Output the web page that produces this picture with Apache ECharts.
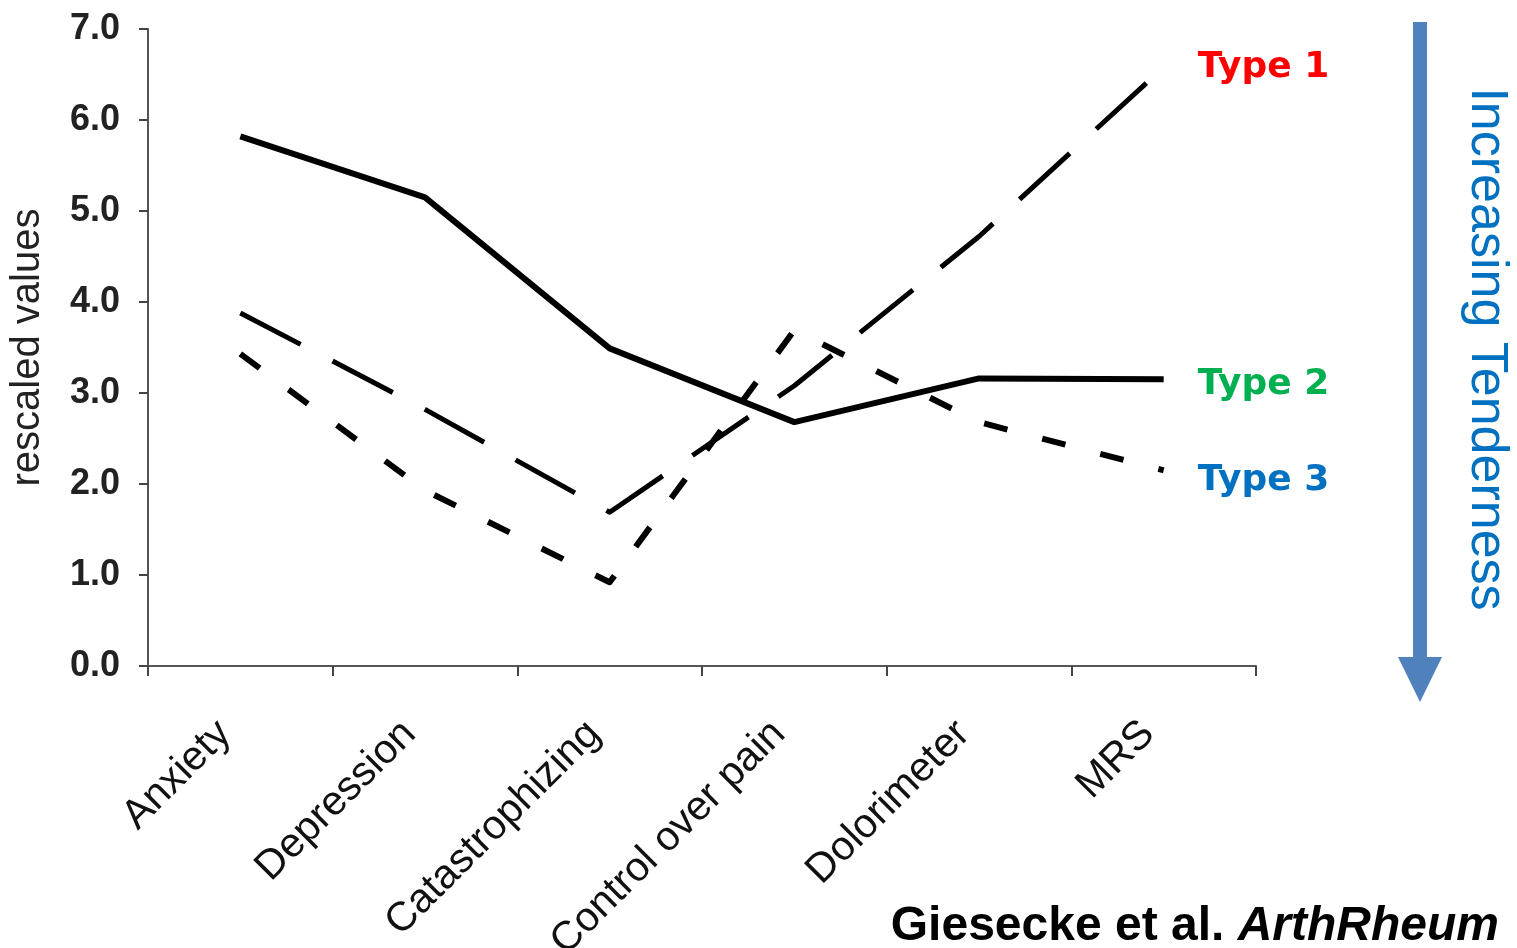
<!DOCTYPE html>
<html>
<head>
<meta charset="utf-8">
<script src="https://cdn.jsdelivr.net/npm/echarts@6/dist/echarts.min.js"></script>
<style>
  html, body { margin: 0; padding: 0; background: #fff; }
  #chart { width: 1517px; height: 948px; }
</style>
</head>
<body>
<div id="chart"></div>
<script>
const categories = ['Anxiety', 'Depression', 'Catastrophizing', 'Control over pain', 'Dolorimeter', 'MRS'];
const seriesNames = ['Type 1', 'Type 2', 'Type 3'];
const type1Values = [3.88, 2.82, 1.69, 3.08, 4.72, 6.58];
const type2Values = [5.82, 5.15, 3.49, 2.68, 3.16, 3.15];
const type3Values = [3.43, 1.93, 0.92, 3.69, 2.68, 2.15];
const yMin = 0, yMax = 7, yStep = 1;
const yAxisTitle = 'rescaled values';
const sideNote = 'Increasing Tenderness';
const citeAuthors = 'Giesecke et al. ';
const citeJournal = 'ArthRheum';

const labelColors = ['#FF0000', '#00B050', '#0070C0'];
const labelOffsets = [[0, 0], [0, 5], [0, 10]];

const chart = echarts.init(document.getElementById('chart'), null, { renderer: 'canvas' });

function lineSeries(name, data, dash, width, color, offset) {
  return {
    name: name,
    type: 'line',
    data: data,
    showSymbol: false,
    symbol: 'none',
    silent: true,
    lineStyle: { color: '#000', width: width, type: dash, cap: 'butt', join: 'round' },
    endLabel: {
      show: true,
      formatter: '{a}',
      distance: 34,
      offset: offset,
      color: color,
      fontFamily: 'DejaVu Sans',
      fontWeight: 'bold',
      fontSize: 36
    },
    z: 3
  };
}

const option = {
  backgroundColor: '#ffffff',
  animation: false,
  grid: { left: 148, right: 261, top: 29, bottom: 282, containLabel: false, outerBoundsMode: 'none' },
  xAxis: {
    type: 'category',
    data: categories,
    boundaryGap: true,
    axisLine: { show: true, lineStyle: { color: '#555', width: 2 } },
    axisTick: { show: true, length: 10, lineStyle: { color: '#444', width: 2 } },
    axisLabel: {
      interval: 0,
      rotate: 45,
      margin: 46,
      padding: [0, 22, 0, 0],
      color: '#111',
      fontFamily: 'Liberation Sans',
      fontSize: 41
    },
    splitLine: { show: false }
  },
  yAxis: {
    type: 'value',
    min: yMin,
    max: yMax,
    interval: yStep,
    name: yAxisTitle,
    nameLocation: 'middle',
    nameGap: 100,
    nameTextStyle: { color: '#222', fontFamily: 'Liberation Sans', fontSize: 40 },
    axisLine: { show: true, lineStyle: { color: '#555', width: 2 } },
    axisTick: { show: true, length: 9, lineStyle: { color: '#444', width: 2 } },
    axisLabel: {
      margin: 28,
      color: '#222',
      fontFamily: 'Liberation Sans',
      fontWeight: 'bold',
      fontSize: 36,
      formatter: v => v.toFixed(1)
    },
    splitLine: { show: false }
  },
  title: {
    text: '{a|' + citeAuthors + '}{b|' + citeJournal + '}',
    right: 13,
    bottom: -8,
    textStyle: {
      rich: {
        a: { fontFamily: 'Liberation Sans', fontWeight: 'bold', fontSize: 48, color: '#000' },
        b: { fontFamily: 'Liberation Sans', fontWeight: 'bold', fontStyle: 'italic', fontSize: 48, color: '#000' }
      }
    }
  },
  series: [
    lineSeries(seriesNames[0], type1Values, [68, 36], 5, labelColors[0], labelOffsets[0]),
    lineSeries(seriesNames[1], type2Values, 'solid', 6, labelColors[1], labelOffsets[1]),
    lineSeries(seriesNames[2], type3Values, [24, 36], 6, labelColors[2], labelOffsets[2])
  ],
  graphic: [
    {
      type: 'rect',
      shape: { x: 1413, y: 22, width: 14, height: 638 },
      style: { fill: '#4F81BD' },
      silent: true
    },
    {
      type: 'polygon',
      shape: { points: [[1398, 657], [1442, 657], [1420, 702]] },
      style: { fill: '#4F81BD' },
      silent: true
    },
    {
      type: 'text',
      x: 1486,
      y: 349,
      rotation: -Math.PI / 2,
      style: {
        text: sideNote,
        fill: '#0070C0',
        fontFamily: 'Liberation Sans',
        fontSize: 52,
        align: 'center',
        verticalAlign: 'middle'
      },
      silent: true
    }
  ]
};

chart.setOption(option);
</script>
</body>
</html>
